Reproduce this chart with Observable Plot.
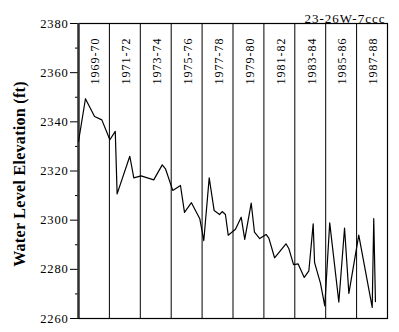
<!DOCTYPE html>
<html><head><meta charset="utf-8">
<script src="https://cdn.jsdelivr.net/npm/d3@7"></script>
<script src="https://cdn.jsdelivr.net/npm/@observablehq/plot@0.6"></script>
<style>body{margin:0;background:#fff}</style>
</head><body><div id="chart"></div>
<script>
const years = [1969.00,1969.45,1970.04,1970.51,1971.03,1971.38,1971.50,1972.32,1972.58,1973.05,1973.87,1974.42,1974.63,1975.10,1975.60,1975.86,1976.31,1976.85,1977.11,1977.46,1977.78,1978.13,1978.30,1978.51,1978.69,1979.16,1979.53,1979.76,1980.18,1980.39,1980.73,1981.14,1981.32,1981.69,1982.43,1982.61,1982.92,1983.22,1983.61,1983.91,1984.19,1984.28,1984.66,1984.94,1985.26,1985.85,1986.22,1986.50,1987.14,1988.01,1988.11,1988.22];
const levels = [2332.0,2349.4,2342.2,2340.8,2332.7,2336.1,2310.7,2326.0,2317.2,2318.0,2316.4,2322.5,2320.9,2312.1,2314.1,2303.2,2307.1,2300.6,2291.7,2317.2,2303.9,2302.3,2303.5,2302.3,2293.9,2296.3,2301.2,2292.2,2306.9,2295.1,2292.5,2294.2,2292.7,2284.7,2290.4,2288.5,2281.9,2282.2,2276.7,2279.4,2298.5,2282.7,2274.4,2265.1,2298.9,2266.7,2296.8,2270.2,2293.9,2264.5,2300.6,2266.9];
const periodStarts = [1969,1971,1973,1975,1977,1979,1981,1983,1985,1987];
const periodLabels = ["1969-70","1971-72","1973-74","1975-76","1977-78","1979-80","1981-82","1983-84","1985-86","1987-88"];
const boundaries = [1971,1973,1975,1977,1979,1981,1983,1985,1987];
const majorTicks = [2260,2280,2300,2320,2340,2360,2380];
const minorTicks = [2270,2290,2310,2330,2350,2370];
const wellId = "23-26W-7ccc";
const yLabel = "Water Level Elevation (ft)";

const series = years.map((t, i) => ({t, v: levels[i]}));
const periods = periodStarts.map((s, i) => ({mid: s + 1, label: periodLabels[i], top: 2374.3}));

const chart = Plot.plot({
  width: 399,
  height: 332,
  marginLeft: 78,
  marginRight: 12,
  marginTop: 23,
  marginBottom: 14,
  style: {fontFamily: "'Liberation Serif', 'DejaVu Serif', serif", fontSize: "12px", background: "#fff", color: "#000"},
  x: {domain: [1969, 1989], axis: null},
  y: {domain: [2260, 2380]},
  marks: [
    Plot.axisY({ticks: majorTicks, tickSize: 8, tickPadding: 2, tickFormat: d => String(d), label: null, fontSize: 12.5}),
    Plot.axisY({ticks: minorTicks, tickSize: 3, text: null, label: null}),
    Plot.ruleX(boundaries, {stroke: "#000", strokeWidth: 1}),
    Plot.frame({stroke: "#000", strokeWidth: 1.2}),
    Plot.ruleX([1969], {stroke: "#333", strokeWidth: 2.5}),
    Plot.line(series, {x: "t", y: "v", stroke: "#000", strokeWidth: 1.2}),
    Plot.text(periods, {x: "mid", y: "top", text: "label", rotate: -90, textAnchor: "end", dx: 1.5, fontSize: 12, fill: "#000"}),
    Plot.text([wellId], {frameAnchor: "top-right", textAnchor: "end", dy: -10, dx: -2, fontSize: 13, fill: "#000"}),
    Plot.text([yLabel], {frameAnchor: "left", textAnchor: "middle", rotate: -90, dx: -59, dy: 3, fontSize: 16, fontWeight: "bold", fill: "#000"})
  ]
});
const tickStrings = majorTicks.map(String);
d3.select(chart).selectAll("text").each(function() {
  const s = this.textContent;
  let ls = null;
  if (periodLabels.includes(s)) ls = "1px";
  else if (s === wellId) ls = "1px";
  else if (tickStrings.includes(s)) ls = "0.8px";
  else if (s === yLabel) ls = "0.3px";
  if (ls) this.setAttribute("letter-spacing", ls);
});
document.getElementById("chart").appendChild(chart);
</script>
</body></html>
